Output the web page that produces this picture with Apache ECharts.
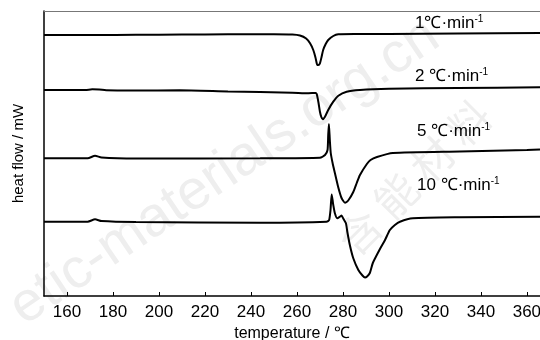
<!DOCTYPE html>
<html lang="zh-CN" style="height: 100%">
<head>
  <meta charset="utf-8">
</head>
<body style="height: 100%; margin: 0">
  <div id="container" style="width: 540px; height: 340px"></div>
  <script type="text/javascript" src="https://cdn.jsdelivr.net/npm/echarts@6/dist/echarts.min.js"></script>
  <script type="text/javascript">
    // heating-rate DSC curves, [temperature, heat flow (arbitrary, offset)]
    const rate1 = [[150,261],[172,261],[190,261.2],[210,261.5],[230,261.7],[250,261.8],[258,261.5],[261.3,260.5],[264,257.5],[265.7,252.7],[267.1,246],[268.0,239],[268.6,232.7],[268.8,231],[269.3,231],[270.0,232.7],[270.7,239],[271.4,246],[272.5,252],[273.6,256],[275.8,260],[278,261.7],[285,262],[300,262],[330,262.5],[365.7,263]];
    const rate2 = [[150,206],[168,206],[171,206.7],[174,206.5],[177,205.7],[190,205.5],[209,205.7],[230,204.5],[258,203.3],[265,202.8],[268.1,203],[268.6,202],[269.3,194.3],[270.0,184.3],[270.6,179],[271.2,176.7],[272.2,179.3],[273.6,186],[275.8,194.3],[278.0,200.3],[281.6,204.3],[287.4,206],[300,207.2],[330,208],[365.7,208.7]];
    const rate5 = [[150,137.7],[169,137.7],[172.2,140.3],[175,138.5],[190,137.5],[244,137.7],[270,138.2],[272.2,141],[273.3,146],[273.6,161],[273.9,172],[274.3,156],[274.7,143],[275.5,133],[276.5,123],[277.9,109.3],[279.4,98],[280.9,93.3],[282.3,95.5],[284.5,104],[286,113],[287.4,121],[290.4,132],[292,136],[294.8,139],[301.7,143],[330.9,144.5],[360,146],[365.7,146.5]];
    const rate10 = [[150,74.3],[169,74.3],[172.2,76.7],[175,75],[190,74],[244,73.3],[272.9,74.3],[274,76],[274.6,86],[275.1,101.5],[275.5,96],[275.8,91],[276.5,82.7],[277.5,77.7],[278.7,79.3],[279.4,80.5],[280.1,77.7],[281.3,72.7],[281.9,64.3],[283,51],[284.5,37.7],[286.7,26],[288.5,20.5],[289.6,18.5],[290.5,19.5],[291.7,23],[293,33],[296.1,47],[298.3,56],[300.4,66],[302.6,71],[304.8,74.3],[310.4,77.7],[330.9,78.7],[365.7,79.3]];
    const rateLabels = ['1', '2 ', '5 ', '10 '];
    const tempTicks = [160, 180, 200, 220, 240, 260, 280, 300, 320, 340, 360];

    var dom = document.getElementById('container');
    var myChart = echarts.init(dom, null, { renderer: 'canvas' });
    var font = "'Liberation Sans', Arial, sans-serif";

    function curve(data) {
      return {
        type: 'line',
        data: data,
        showSymbol: false,
        smooth: 0.2,
        lineStyle: { color: '#000', width: 2 },
        z: 3
      };
    }

    function rateText(i, left, top) {
      return {
        type: 'text',
        left: left,
        top: top,
        z: 10,
        style: {
          text: rateLabels[i] + '℃·min{s|-1}',
          font: '17px ' + font,
          fill: '#000',
          rich: { s: { fontSize: 10, fontFamily: font, verticalAlign: 'top', padding: [0, 0, 8, 0] } }
        }
      };
    }

    var option = {
      animation: false,
      grid: { left: 44, right: 0, top: 11, bottom: 44, outerBoundsMode: 'none' },
      xAxis: [
        {
          type: 'value',
          min: 150,
          max: 365.7,
          name: 'temperature / ℃',
          nameLocation: 'middle',
          nameGap: 29,
          nameTextStyle: { fontFamily: font, fontSize: 16, color: '#000' },
          axisLine: { lineStyle: { color: '#000', width: 1.5 } },
          axisTick: { inside: true, length: 4, customValues: tempTicks, lineStyle: { color: '#000' } },
          axisLabel: { fontFamily: font, fontSize: 17, color: '#000', margin: 8, customValues: tempTicks },
          splitLine: { show: false }
        },
        {
          type: 'value',
          position: 'top',
          min: 150,
          max: 365.7,
          axisLine: { show: true, lineStyle: { color: '#777', width: 1 } },
          axisTick: { show: false },
          axisLabel: { show: false },
          splitLine: { show: false }
        }
      ],
      yAxis: {
        type: 'value',
        min: 0,
        max: 285,
        name: 'heat flow / mW',
        nameLocation: 'middle',
        nameGap: 18,
        nameTextStyle: { fontFamily: font, fontSize: 15, color: '#000' },
        axisLine: { show: true, lineStyle: { color: '#000', width: 1.5 } },
        axisTick: { show: false },
        axisLabel: { show: false },
        splitLine: { show: false }
      },
      graphic: [
        {
          type: 'text',
          x: 0, y: 290, rotation: 34 * Math.PI / 180, z: 0,
          style: { text: 'etic-materials.org.cn', font: '56px ' + font, fill: '#eeeeee' }
        },
        {
          type: 'text',
          x: 330, y: 232, rotation: 45 * Math.PI / 180, z: 0,
          style: { text: '含 能 材 料', font: '42px ' + "'Noto Sans CJK SC', sans-serif", fill: '#eeeeee' }
        },
        rateText(0, 415, 14),
        rateText(1, 415, 67),
        rateText(2, 417, 122),
        rateText(3, 417, 176)
      ],
      series: [curve(rate1), curve(rate2), curve(rate5), curve(rate10)]
    };

    myChart.setOption(option);
    window.addEventListener('resize', myChart.resize);
  </script>
</body>
</html>
